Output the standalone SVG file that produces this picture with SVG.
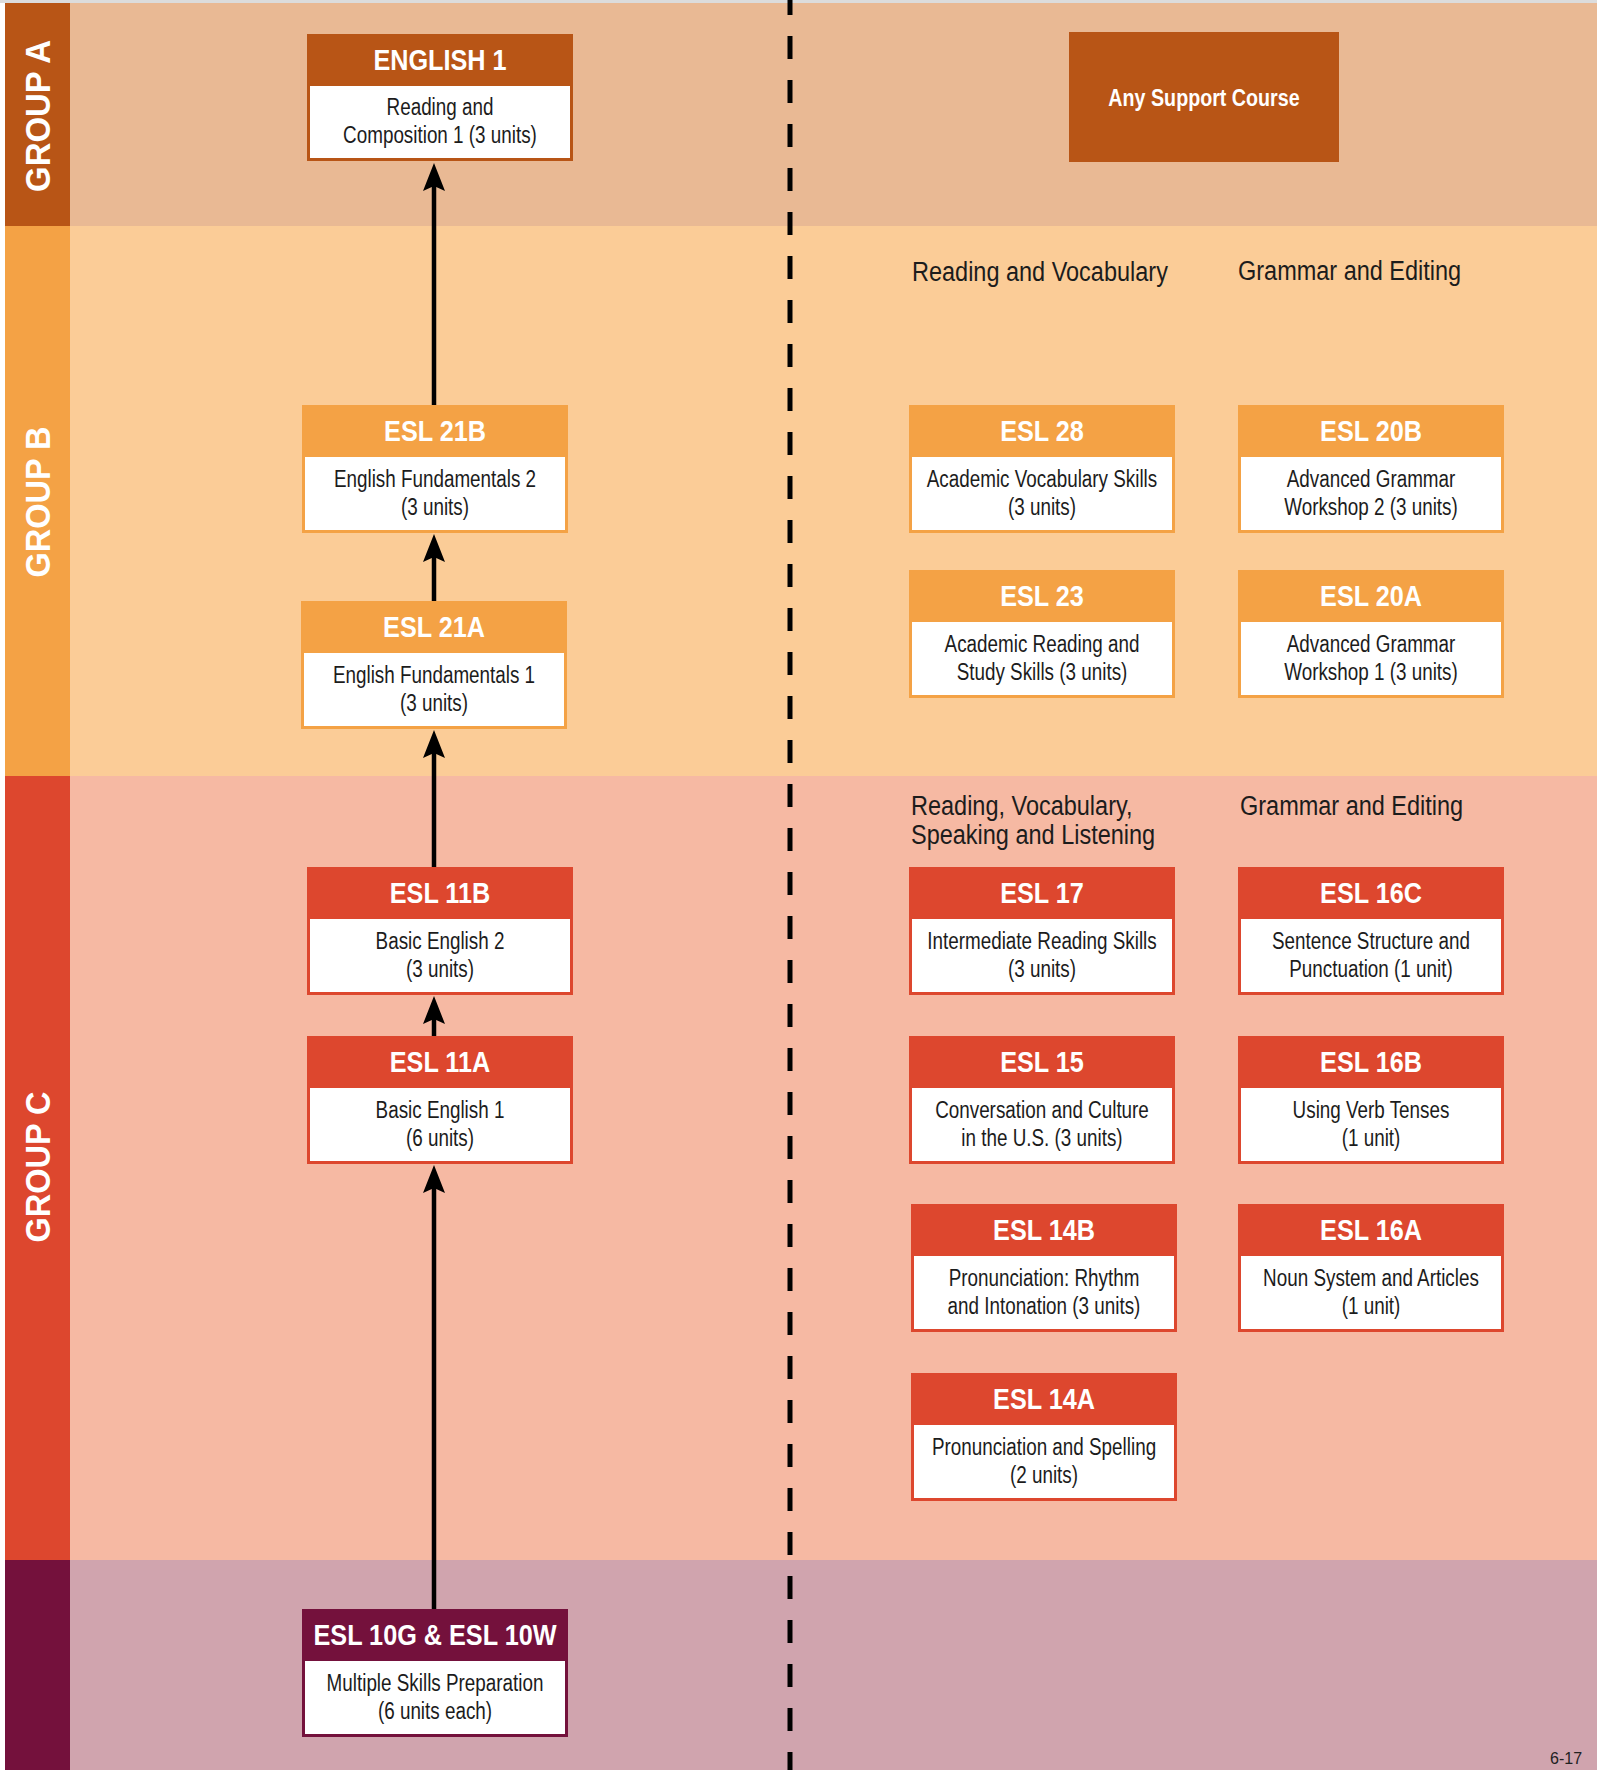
<svg xmlns="http://www.w3.org/2000/svg" width="1597" height="1770" viewBox="0 0 1597 1770">
<style>
.hdr{font-family:"Liberation Sans",Arial,sans-serif;font-weight:bold;font-size:29px;fill:#fff;text-anchor:middle}
.body{font-family:"Liberation Sans",Arial,sans-serif;font-size:23px;fill:#1c1c1c;text-anchor:middle}
.lbl{font-family:"Liberation Sans",Arial,sans-serif;font-size:27px;fill:#1c1c1c}
.sup{font-family:"Liberation Sans",Arial,sans-serif;font-weight:bold;font-size:24px;fill:#fff;text-anchor:middle}
.grp{font-family:"Liberation Sans",Arial,sans-serif;font-weight:bold;font-size:35px;fill:#fff;text-anchor:middle}
.pg{font-family:"Liberation Sans",Arial,sans-serif;font-size:16px;fill:#222}
.ca .frame{fill:#b85516}
.cb .frame{fill:#f4a245}
.cc .frame{fill:#dd472e}
.cd .frame{fill:#74113c}
.inner{fill:#fff}
.conn line{stroke:#000;stroke-width:4.5;marker-end:url(#arr)}
</style>
<defs>
<marker id="arr" markerUnits="userSpaceOnUse" viewBox="0 0 28 22" markerWidth="28" markerHeight="22" refX="8" refY="11" orient="auto">
<path d="M0,0 L28,11 L0,22 L5,11 Z" fill="#000"/>
</marker>
</defs>
<rect x="0" y="0" width="1597" height="1770" fill="#fff"/>
<rect x="0" y="0" width="1597" height="3" fill="#dcdcdc"/>
<!-- bands -->
<rect x="70" y="3" width="1527" height="223" fill="#e9b994"/>
<rect x="5" y="3" width="65" height="223" fill="#b85516"/>
<rect x="70" y="226" width="1527" height="550" fill="#fbcc97"/>
<rect x="5" y="226" width="65" height="550" fill="#f4a245"/>
<rect x="70" y="776" width="1527" height="784" fill="#f6b9a3"/>
<rect x="5" y="776" width="65" height="784" fill="#dd472e"/>
<rect x="70" y="1560" width="1527" height="210" fill="#d0a4ae"/>
<rect x="5" y="1560" width="65" height="210" fill="#74113c"/>
<text class="grp" transform="translate(37.5,116) rotate(-90)" x="0" y="12.5" textLength="152" lengthAdjust="spacingAndGlyphs">GROUP A</text>
<text class="grp" transform="translate(37.5,502) rotate(-90)" x="0" y="12.5" textLength="151" lengthAdjust="spacingAndGlyphs">GROUP B</text>
<text class="grp" transform="translate(37.5,1167) rotate(-90)" x="0" y="12.5" textLength="151" lengthAdjust="spacingAndGlyphs">GROUP C</text>
<!-- divider -->
<line x1="790" y1="-8" x2="790" y2="1770" stroke="#000" stroke-width="5" stroke-dasharray="23 21"/>
<!-- column labels -->
<text class="lbl" transform="matrix(0.87 0 0 1 912 281)">Reading and Vocabulary</text>
<text class="lbl" transform="matrix(0.87 0 0 1 1238 280)">Grammar and Editing</text>
<text class="lbl" transform="matrix(0.87 0 0 1 911 815)">Reading, Vocabulary,</text>
<text class="lbl" transform="matrix(0.87 0 0 1 911 844)">Speaking and Listening</text>
<text class="lbl" transform="matrix(0.87 0 0 1 1240 815)">Grammar and Editing</text>
<!-- connectors -->
<g id="connectors" class="conn">
<line x1="434" y1="405" x2="434" y2="183"/>
<line x1="434" y1="601" x2="434" y2="554"/>
<line x1="434" y1="867" x2="434" y2="750"/>
<line x1="434" y1="1036" x2="434" y2="1016"/>
<line x1="434" y1="1609" x2="434" y2="1185"/>
</g>
<!-- nodes -->
<g id="english1" class="ca" transform="translate(307,34)">
<rect class="frame" width="266" height="127"/><rect class="inner" x="3" y="52" width="260" height="72"/>
<text class="hdr" transform="matrix(0.87 0 0 1 133 36)">ENGLISH 1</text>
<text class="body" transform="matrix(0.82 0 0 1 133 81)">Reading and</text>
<text class="body" transform="matrix(0.82 0 0 1 133 109)">Composition 1 (3 units)</text>
</g>
<g id="support" class="ca">
<rect class="frame" x="1069" y="32" width="270" height="130"/>
<text class="sup" transform="matrix(0.82 0 0 1 1204 106)">Any Support Course</text>
</g>
<g id="esl21b" class="cb" transform="translate(302,405)">
<rect class="frame" width="266" height="128"/><rect class="inner" x="3" y="52" width="260" height="73"/>
<text class="hdr" transform="matrix(0.87 0 0 1 133 36)">ESL 21B</text>
<text class="body" transform="matrix(0.82 0 0 1 133 82)">English Fundamentals 2</text>
<text class="body" transform="matrix(0.82 0 0 1 133 110)">(3 units)</text>
</g>
<g id="esl21a" class="cb" transform="translate(301,601)">
<rect class="frame" width="266" height="128"/><rect class="inner" x="3" y="52" width="260" height="73"/>
<text class="hdr" transform="matrix(0.87 0 0 1 133 36)">ESL 21A</text>
<text class="body" transform="matrix(0.82 0 0 1 133 82)">English Fundamentals 1</text>
<text class="body" transform="matrix(0.82 0 0 1 133 110)">(3 units)</text>
</g>
<g id="esl28" class="cb" transform="translate(909,405)">
<rect class="frame" width="266" height="128"/><rect class="inner" x="3" y="52" width="260" height="73"/>
<text class="hdr" transform="matrix(0.87 0 0 1 133 36)">ESL 28</text>
<text class="body" transform="matrix(0.82 0 0 1 133 82)">Academic Vocabulary Skills</text>
<text class="body" transform="matrix(0.82 0 0 1 133 110)">(3 units)</text>
</g>
<g id="esl20b" class="cb" transform="translate(1238,405)">
<rect class="frame" width="266" height="128"/><rect class="inner" x="3" y="52" width="260" height="73"/>
<text class="hdr" transform="matrix(0.87 0 0 1 133 36)">ESL 20B</text>
<text class="body" transform="matrix(0.82 0 0 1 133 82)">Advanced Grammar</text>
<text class="body" transform="matrix(0.82 0 0 1 133 110)">Workshop 2 (3 units)</text>
</g>
<g id="esl23" class="cb" transform="translate(909,570)">
<rect class="frame" width="266" height="128"/><rect class="inner" x="3" y="52" width="260" height="73"/>
<text class="hdr" transform="matrix(0.87 0 0 1 133 36)">ESL 23</text>
<text class="body" transform="matrix(0.82 0 0 1 133 82)">Academic Reading and</text>
<text class="body" transform="matrix(0.82 0 0 1 133 110)">Study Skills (3 units)</text>
</g>
<g id="esl20a" class="cb" transform="translate(1238,570)">
<rect class="frame" width="266" height="128"/><rect class="inner" x="3" y="52" width="260" height="73"/>
<text class="hdr" transform="matrix(0.87 0 0 1 133 36)">ESL 20A</text>
<text class="body" transform="matrix(0.82 0 0 1 133 82)">Advanced Grammar</text>
<text class="body" transform="matrix(0.82 0 0 1 133 110)">Workshop 1 (3 units)</text>
</g>
<g id="esl11b" class="cc" transform="translate(307,867)">
<rect class="frame" width="266" height="128"/><rect class="inner" x="3" y="52" width="260" height="73"/>
<text class="hdr" transform="matrix(0.87 0 0 1 133 36)">ESL 11B</text>
<text class="body" transform="matrix(0.82 0 0 1 133 82)">Basic English 2</text>
<text class="body" transform="matrix(0.82 0 0 1 133 110)">(3 units)</text>
</g>
<g id="esl11a" class="cc" transform="translate(307,1036)">
<rect class="frame" width="266" height="128"/><rect class="inner" x="3" y="52" width="260" height="73"/>
<text class="hdr" transform="matrix(0.87 0 0 1 133 36)">ESL 11A</text>
<text class="body" transform="matrix(0.82 0 0 1 133 82)">Basic English 1</text>
<text class="body" transform="matrix(0.82 0 0 1 133 110)">(6 units)</text>
</g>
<g id="esl17" class="cc" transform="translate(909,867)">
<rect class="frame" width="266" height="128"/><rect class="inner" x="3" y="52" width="260" height="73"/>
<text class="hdr" transform="matrix(0.87 0 0 1 133 36)">ESL 17</text>
<text class="body" transform="matrix(0.82 0 0 1 133 82)">Intermediate Reading Skills</text>
<text class="body" transform="matrix(0.82 0 0 1 133 110)">(3 units)</text>
</g>
<g id="esl16c" class="cc" transform="translate(1238,867)">
<rect class="frame" width="266" height="128"/><rect class="inner" x="3" y="52" width="260" height="73"/>
<text class="hdr" transform="matrix(0.87 0 0 1 133 36)">ESL 16C</text>
<text class="body" transform="matrix(0.82 0 0 1 133 82)">Sentence Structure and</text>
<text class="body" transform="matrix(0.82 0 0 1 133 110)">Punctuation (1 unit)</text>
</g>
<g id="esl15" class="cc" transform="translate(909,1036)">
<rect class="frame" width="266" height="128"/><rect class="inner" x="3" y="52" width="260" height="73"/>
<text class="hdr" transform="matrix(0.87 0 0 1 133 36)">ESL 15</text>
<text class="body" transform="matrix(0.82 0 0 1 133 82)">Conversation and Culture</text>
<text class="body" transform="matrix(0.82 0 0 1 133 110)">in the U.S. (3 units)</text>
</g>
<g id="esl16b" class="cc" transform="translate(1238,1036)">
<rect class="frame" width="266" height="128"/><rect class="inner" x="3" y="52" width="260" height="73"/>
<text class="hdr" transform="matrix(0.87 0 0 1 133 36)">ESL 16B</text>
<text class="body" transform="matrix(0.82 0 0 1 133 82)">Using Verb Tenses</text>
<text class="body" transform="matrix(0.82 0 0 1 133 110)">(1 unit)</text>
</g>
<g id="esl14b" class="cc" transform="translate(911,1204)">
<rect class="frame" width="266" height="128"/><rect class="inner" x="3" y="52" width="260" height="73"/>
<text class="hdr" transform="matrix(0.87 0 0 1 133 36)">ESL 14B</text>
<text class="body" transform="matrix(0.82 0 0 1 133 82)">Pronunciation: Rhythm</text>
<text class="body" transform="matrix(0.82 0 0 1 133 110)">and Intonation (3 units)</text>
</g>
<g id="esl16a" class="cc" transform="translate(1238,1204)">
<rect class="frame" width="266" height="128"/><rect class="inner" x="3" y="52" width="260" height="73"/>
<text class="hdr" transform="matrix(0.87 0 0 1 133 36)">ESL 16A</text>
<text class="body" transform="matrix(0.82 0 0 1 133 82)">Noun System and Articles</text>
<text class="body" transform="matrix(0.82 0 0 1 133 110)">(1 unit)</text>
</g>
<g id="esl14a" class="cc" transform="translate(911,1373)">
<rect class="frame" width="266" height="128"/><rect class="inner" x="3" y="52" width="260" height="73"/>
<text class="hdr" transform="matrix(0.87 0 0 1 133 36)">ESL 14A</text>
<text class="body" transform="matrix(0.82 0 0 1 133 82)">Pronunciation and Spelling</text>
<text class="body" transform="matrix(0.82 0 0 1 133 110)">(2 units)</text>
</g>
<g id="esl10" class="cd" transform="translate(302,1609)">
<rect class="frame" width="266" height="128"/><rect class="inner" x="3" y="52" width="260" height="73"/>
<text class="hdr" transform="matrix(0.87 0 0 1 133 36)">ESL 10G &amp; ESL 10W</text>
<text class="body" transform="matrix(0.82 0 0 1 133 82)">Multiple Skills Preparation</text>
<text class="body" transform="matrix(0.82 0 0 1 133 110)">(6 units each)</text>
</g>
<text class="pg" x="1550" y="1764">6-17</text>
</svg>
